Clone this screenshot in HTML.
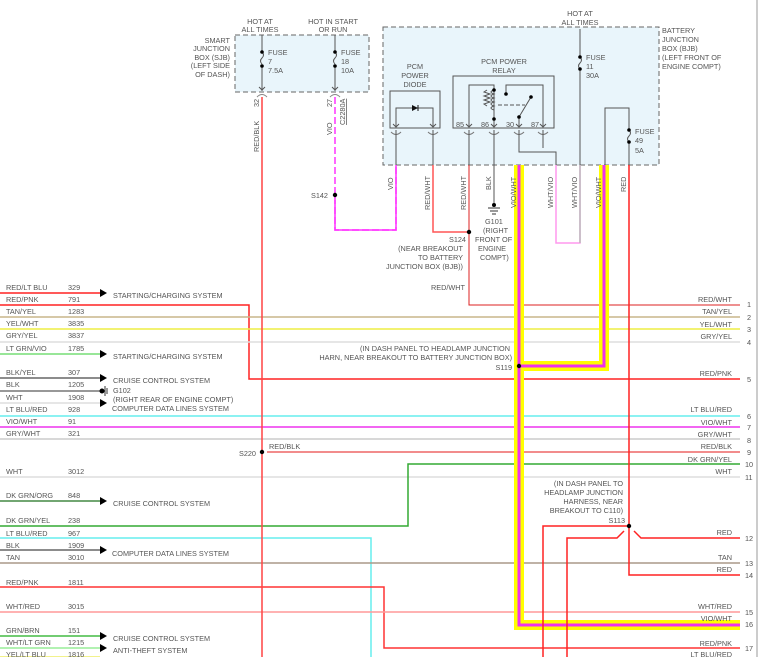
<!DOCTYPE html>
<html><head><meta charset="utf-8"><style>
html,body{margin:0;padding:0;background:#fff}
svg{display:block}
text{font-family:"Liberation Sans",sans-serif;font-size:7.3px;fill:#555}
</style></head><body>
<svg width="758" height="657" viewBox="0 0 758 657" xmlns="http://www.w3.org/2000/svg">
<rect x="235" y="35" width="134" height="57" fill="#e9f5fb" stroke="#666" stroke-dasharray="5,3"/>
<rect x="383" y="27" width="276" height="138" fill="#e9f5fb" stroke="#666" stroke-dasharray="5,3"/>
<line x1="757" y1="0" x2="757" y2="657" stroke="#bbb" stroke-width="1.5"/>

<text x="260" y="24" text-anchor="middle">HOT AT</text><text x="260" y="32" text-anchor="middle">ALL TIMES</text>
<text x="333" y="24" text-anchor="middle">HOT IN START</text><text x="333" y="32" text-anchor="middle">OR RUN</text>
<text x="230" y="43" text-anchor="end">SMART</text><text x="230" y="51" text-anchor="end">JUNCTION</text><text x="230" y="60" text-anchor="end">BOX (SJB)</text><text x="230" y="68" text-anchor="end">(LEFT SIDE</text><text x="230" y="77" text-anchor="end">OF DASH)</text>
<text x="580" y="16" text-anchor="middle">HOT AT</text><text x="580" y="25" text-anchor="middle">ALL TIMES</text>
<text x="662" y="33">BATTERY</text><text x="662" y="42">JUNCTION</text><text x="662" y="51">BOX (BJB)</text><text x="662" y="60">(LEFT FRONT OF</text><text x="662" y="69">ENGINE COMPT)</text>

<g stroke="#555" fill="none">
<line x1="262" y1="35" x2="262" y2="52"/><path d="M262 52 q3 3 0 6 q-3 3 0 6"/><line x1="262" y1="66" x2="262" y2="91"/>
<line x1="335" y1="35" x2="335" y2="52"/><path d="M335 52 q3 3 0 6 q-3 3 0 6"/><line x1="335" y1="66" x2="335" y2="91"/>
<path d="M259 87 l3 3 l3 -3 M332 87 l3 3 l3 -3"/>
<path d="M257 97 q5 -5 10 0 M330 97 q5 -5 10 0" stroke="#888"/>
<path d="M393 124 l3 3 l3 -3 M430 124 l3 3 l3 -3 M466 124 l3 3 l3 -3 M491 124 l3 3 l3 -3 M516 124 l3 3 l3 -3 M540 124 l3 3 l3 -3"/>
<path d="M391 132 q5 5 10 0 M428 132 q5 5 10 0 M464 132 q5 5 10 0 M489 132 q5 5 10 0 M514 132 q5 5 10 0 M538 132 q5 5 10 0" stroke="#777"/>
</g>
<circle cx="262" cy="52" r="1.8" fill="#000"/><circle cx="262" cy="66" r="1.8" fill="#000"/>
<circle cx="335" cy="52" r="1.8" fill="#000"/><circle cx="335" cy="66" r="1.8" fill="#000"/>
<text x="268" y="55">FUSE</text><text x="268" y="64">7</text><text x="268" y="73">7.5A</text>
<text x="341" y="55">FUSE</text><text x="341" y="64">18</text><text x="341" y="73">10A</text>

<text x="415" y="69" text-anchor="middle">PCM</text><text x="415" y="78" text-anchor="middle">POWER</text><text x="415" y="87" text-anchor="middle">DIODE</text>
<rect x="390" y="91" width="50" height="37" fill="none" stroke="#555"/>
<path d="M396 126 V108 H433 V126" fill="none" stroke="#555"/>
<path d="M412 105 v6 l6 -3 z" fill="#111"/><line x1="418" y1="105" x2="418" y2="111" stroke="#111"/>
<text x="504" y="64" text-anchor="middle">PCM POWER</text><text x="504" y="73" text-anchor="middle">RELAY</text>
<rect x="453" y="76" width="101" height="52" fill="none" stroke="#555"/>
<g stroke="#555" fill="none">
<path d="M469 126 V85 H494 V126"/>
<path d="M494 90 q-6 2 0 4 q-6 2 0 4 q-6 2 0 4 q-6 2 0 4 q-6 2 0 4"/>
<path d="M487 90 l-3 2 l6 2 l-6 2 l6 2 l-6 2 l6 2 l-6 2 l3 2"/>
<line x1="498" y1="105" x2="525" y2="105" stroke-dasharray="4,2"/>
<path d="M506 94 V85 H543 V126"/>
<line x1="519" y1="126" x2="519" y2="117"/><line x1="519" y1="117" x2="531" y2="97"/>
<path d="M396 130 V165 M433 130 V165 M469 130 V165 M494 130 V165 M519 130 V152 H556 V165 M543 130 V148"/>
</g>
<circle cx="494" cy="90" r="1.8" fill="#000"/><circle cx="494" cy="119" r="1.8" fill="#000"/>
<circle cx="506" cy="94" r="1.8" fill="#000"/><circle cx="531" cy="97" r="1.8" fill="#000"/><circle cx="519" cy="117" r="1.8" fill="#000"/>
<text x="456" y="127">85</text><text x="481" y="127">86</text><text x="506" y="127">30</text><text x="531" y="127">87</text>
<g stroke="#555" fill="none">
<line x1="580" y1="29" x2="580" y2="57"/><path d="M580 57 q3 3 0 6 q-3 3 0 6"/><line x1="580" y1="69" x2="580" y2="165"/>
<path d="M605 165 V108 H629 V130"/><path d="M629 130 q3 3 0 6 q-3 3 0 6"/><line x1="629" y1="142" x2="629" y2="165"/>
</g>
<circle cx="580" cy="57" r="1.8" fill="#000"/><circle cx="580" cy="69" r="1.8" fill="#000"/>
<circle cx="629" cy="130" r="1.8" fill="#000"/><circle cx="629" cy="142" r="1.8" fill="#000"/>
<text x="586" y="60">FUSE</text><text x="586" y="69">11</text><text x="586" y="78">30A</text>
<text x="635" y="134">FUSE</text><text x="635" y="143">49</text><text x="635" y="153">5A</text>

<g fill="none" stroke-width="1.5">
<line x1="0" y1="293" x2="100" y2="293" stroke="#f22"/>
<path d="M0 305 H249 V379 H740" stroke="#f22"/>
<path d="M469 165 V305 H740" stroke="#d22" stroke-width="1"/>
<line x1="0" y1="317" x2="740" y2="317" stroke="#c9b58a"/>
<line x1="0" y1="329" x2="740" y2="329" stroke="#ee4"/>
<line x1="0" y1="342" x2="740" y2="342" stroke="#ddd" />
<line x1="0" y1="354" x2="100" y2="354" stroke="#7d7"/>
<line x1="0" y1="378" x2="100" y2="378" stroke="#666"/>
<line x1="0" y1="391" x2="100" y2="391" stroke="#777"/>
<line x1="0" y1="403" x2="100" y2="403" stroke="#ddd"/>
<line x1="0" y1="416" x2="740" y2="416" stroke="#6ee"/>
<line x1="0" y1="427" x2="740" y2="427" stroke="#e3e"/>
<line x1="0" y1="439" x2="740" y2="439" stroke="#ccc"/>
<line x1="267" y1="452" x2="740" y2="452" stroke="#e66"/>
<line x1="0" y1="477" x2="740" y2="477" stroke="#ddd"/>
<line x1="0" y1="501" x2="100" y2="501" stroke="#484"/>
<path d="M0 526 H408 V464 H740" stroke="#3a3"/>
<path d="M0 538 H371 V657" stroke="#6ee"/>
<line x1="0" y1="550" x2="100" y2="550" stroke="#666"/>
<line x1="0" y1="563" x2="740" y2="563" stroke="#a98"/>
<path d="M0 587 H384 V648 H740" stroke="#f33"/>
<line x1="0" y1="612" x2="740" y2="612" stroke="#f99"/>
<line x1="0" y1="636" x2="100" y2="636" stroke="#4b4"/>
<line x1="0" y1="648" x2="100" y2="648" stroke="#9e9"/>
<line x1="0" y1="657" x2="100" y2="657" stroke="#ee6"/>
<line x1="262" y1="97" x2="262" y2="657" stroke="#f44"/>
<path d="M335 97 V230 H396 V165" stroke="#f3f" stroke-dasharray="7,3"/>
<path d="M335 200 V230 H396 V165" stroke="#f3f"/>
<path d="M433 165 V232 H469" stroke="#f55"/>
<line x1="494" y1="165" x2="494" y2="205" stroke="#555" stroke-width="1"/>
<path d="M556 165 V243 H580 V165" stroke="#f9e"/>
<line x1="580" y1="165" x2="580" y2="243" stroke="#bbb"/>
<path d="M519 165 V625 H740" stroke="#ff0" stroke-width="10"/>
<path d="M604 165 V366 H519" stroke="#ff0" stroke-width="10"/>
<path d="M519 165 V625 H740" stroke="#e3e" stroke-width="3"/>
<path d="M604 165 V366 H519" stroke="#e3e" stroke-width="3"/>
<path d="M629 165 V575 H740" stroke="#f22"/>
<path d="M629 526 H543 V657" stroke="#f22"/>
<path d="M624 531 L617 538 H567 V657" stroke="#f22"/>
<path d="M634 531 L641 538 H740" stroke="#f22"/>
</g>
<g stroke="#333"><line x1="488" y1="208" x2="500" y2="208"/><line x1="490" y1="211" x2="498" y2="211"/><line x1="492" y1="214" x2="496" y2="214"/></g>
<circle cx="494" cy="205" r="2" fill="#000"/>
<circle cx="335" cy="195" r="2.2" fill="#000"/><circle cx="469" cy="232" r="2.2" fill="#000"/>
<circle cx="262" cy="452" r="2.2" fill="#000"/><circle cx="519" cy="366" r="2.2" fill="#000"/><circle cx="629" cy="526" r="2.2" fill="#000"/>
<g fill="#000">
<path d="M100 289 l7 4 l-7 4z"/><path d="M100 350 l7 4 l-7 4z"/><path d="M100 374 l7 4 l-7 4z"/>
<path d="M100 399 l7 4 l-7 4z"/><path d="M100 497 l7 4 l-7 4z"/><path d="M100 546 l7 4 l-7 4z"/>
<path d="M100 632 l7 4 l-7 4z"/><path d="M100 644 l7 4 l-7 4z"/>
<circle cx="102" cy="391" r="2.5"/>
</g>
<g stroke="#333"><line x1="105" y1="386" x2="105" y2="396"/><line x1="107" y1="388" x2="107" y2="394"/></g>

<g>
<text transform="translate(259,107) rotate(-90)">32</text>
<text transform="translate(259,152) rotate(-90)">RED/BLK</text>
<text transform="translate(332,107) rotate(-90)">27</text>
<text transform="translate(332,135) rotate(-90)">VIO</text>
<text transform="translate(345,125) rotate(-90)" style="text-decoration:underline">C2280A</text>
<text transform="translate(393,190) rotate(-90)">VIO</text>
<text transform="translate(430,210) rotate(-90)">RED/WHT</text>
<text transform="translate(466,210) rotate(-90)">RED/WHT</text>
<text transform="translate(491,190) rotate(-90)">BLK</text>
<text transform="translate(516,208) rotate(-90)">VIO/WHT</text>
<text transform="translate(553,208) rotate(-90)">WHT/VIO</text>
<text transform="translate(577,208) rotate(-90)">WHT/VIO</text>
<text transform="translate(601,208) rotate(-90)">VIO/WHT</text>
<text transform="translate(626,192) rotate(-90)">RED</text>
</g>
<text x="328" y="198" text-anchor="end">S142</text>
<text x="466" y="242" text-anchor="end">S124</text>
<text x="463" y="251" text-anchor="end">(NEAR BREAKOUT</text><text x="463" y="260" text-anchor="end">TO BATTERY</text><text x="463" y="269" text-anchor="end">JUNCTION BOX (BJB))</text>
<text x="485" y="224">G101</text><text x="483" y="233">(RIGHT</text><text x="475" y="242">FRONT OF</text><text x="478" y="251">ENGINE</text><text x="480" y="260">COMPT)</text>
<text x="465" y="290" text-anchor="end">RED/WHT</text>

<g>
<text x="6" y="290">RED/LT BLU</text><text x="68" y="290">329</text><text x="113" y="298">STARTING/CHARGING SYSTEM</text>
<text x="6" y="302">RED/PNK</text><text x="68" y="302">791</text>
<text x="6" y="314">TAN/YEL</text><text x="68" y="314">1283</text>
<text x="6" y="326">YEL/WHT</text><text x="68" y="326">3835</text>
<text x="6" y="338">GRY/YEL</text><text x="68" y="338">3837</text>
<text x="6" y="351">LT GRN/VIO</text><text x="68" y="351">1785</text><text x="113" y="359">STARTING/CHARGING SYSTEM</text>
<text x="6" y="375">BLK/YEL</text><text x="68" y="375">307</text><text x="113" y="383">CRUISE CONTROL SYSTEM</text>
<text x="6" y="387">BLK</text><text x="68" y="387">1205</text><text x="113" y="393">G102</text>
<text x="6" y="400">WHT</text><text x="68" y="400">1908</text><text x="113" y="402">(RIGHT REAR OF ENGINE COMPT)</text>
<text x="6" y="412">LT BLU/RED</text><text x="68" y="412">928</text><text x="112" y="411">COMPUTER DATA LINES SYSTEM</text>
<text x="6" y="424">VIO/WHT</text><text x="68" y="424">91</text>
<text x="6" y="436">GRY/WHT</text><text x="68" y="436">321</text>
<text x="256" y="456" text-anchor="end">S220</text><text x="269" y="449">RED/BLK</text>
<text x="6" y="474">WHT</text><text x="68" y="474">3012</text>
<text x="6" y="498">DK GRN/ORG</text><text x="68" y="498">848</text><text x="113" y="506">CRUISE CONTROL SYSTEM</text>
<text x="6" y="523">DK GRN/YEL</text><text x="68" y="523">238</text>
<text x="6" y="536">LT BLU/RED</text><text x="68" y="536">967</text>
<text x="6" y="548">BLK</text><text x="68" y="548">1909</text><text x="112" y="556">COMPUTER DATA LINES SYSTEM</text>
<text x="6" y="560">TAN</text><text x="68" y="560">3010</text>
<text x="6" y="585">RED/PNK</text><text x="68" y="585">1811</text>
<text x="6" y="609">WHT/RED</text><text x="68" y="609">3015</text>
<text x="6" y="633">GRN/BRN</text><text x="68" y="633">151</text><text x="113" y="641">CRUISE CONTROL SYSTEM</text>
<text x="6" y="645">WHT/LT GRN</text><text x="68" y="645">1215</text><text x="113" y="653">ANTI-THEFT SYSTEM</text>
<text x="6" y="657">YEL/LT BLU</text><text x="68" y="657">1816</text>
</g>
<text x="510" y="351" text-anchor="end">(IN DASH PANEL TO HEADLAMP JUNCTION</text>
<text x="512" y="360" text-anchor="end">HARN, NEAR BREAKOUT TO BATTERY JUNCTION BOX)</text>
<text x="512" y="370" text-anchor="end">S119</text>
<text x="623" y="486" text-anchor="end">(IN DASH PANEL TO</text><text x="623" y="495" text-anchor="end">HEADLAMP JUNCTION</text><text x="623" y="504" text-anchor="end">HARNESS, NEAR</text><text x="623" y="513" text-anchor="end">BREAKOUT TO C110)</text>
<text x="625" y="523" text-anchor="end">S113</text>

<g text-anchor="end">
<text x="732" y="302">RED/WHT</text><text x="732" y="314">TAN/YEL</text><text x="732" y="327">YEL/WHT</text><text x="732" y="339">GRY/YEL</text>
<text x="732" y="376">RED/PNK</text><text x="732" y="412">LT BLU/RED</text><text x="732" y="425">VIO/WHT</text><text x="732" y="437">GRY/WHT</text>
<text x="732" y="449">RED/BLK</text><text x="732" y="462">DK GRN/YEL</text><text x="732" y="474">WHT</text>
<text x="732" y="535">RED</text><text x="732" y="560">TAN</text><text x="732" y="572">RED</text>
<text x="732" y="609">WHT/RED</text><text x="732" y="621">VIO/WHT</text><text x="732" y="646">RED/PNK</text><text x="732" y="657">LT BLU/RED</text>
</g>
<g>
<text x="747" y="307">1</text><text x="747" y="320">2</text><text x="747" y="332">3</text><text x="747" y="345">4</text><text x="747" y="382">5</text>
<text x="747" y="419">6</text><text x="747" y="430">7</text><text x="747" y="443">8</text><text x="747" y="455">9</text>
<text x="745" y="467">10</text><text x="745" y="480">11</text><text x="745" y="541">12</text><text x="745" y="566">13</text>
<text x="745" y="578">14</text><text x="745" y="615">15</text><text x="745" y="627">16</text><text x="745" y="651">17</text>
</g>
</svg>
</body></html>
